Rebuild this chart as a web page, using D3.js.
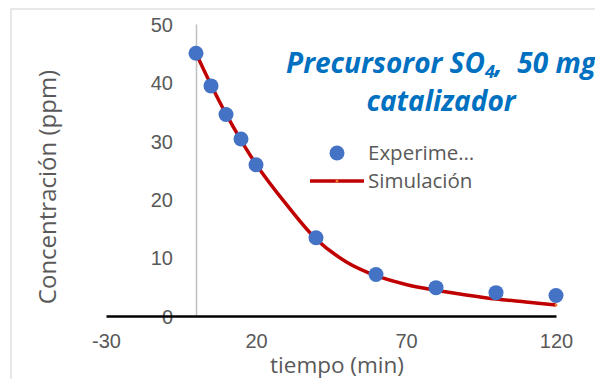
<!DOCTYPE html>
<html lang="es">
<head>
    <meta charset="UTF-8">
    <title>Precursoror SO4</title>
    <script src="https://d3js.org/d3.v7.min.js"></script>
    <style>
        body { margin: 0; background: #fff; }
        svg { display: block; font-family: "Open Sans", "Noto Sans", sans-serif; }
    </style>
</head>
<body>
    <svg width="595" height="379"></svg>
    <script>

// Experimental points
const expTime = [0, 5, 10, 15, 20, 40, 60, 80, 100, 120];
const expConc = [45, 39.4, 34.5, 30.3, 25.9, 13.4, 7.1, 4.85, 4.0, 3.5];

// Simulated curve
const simTime = [0, 5, 10, 15, 20, 30, 40, 50, 60, 70, 80, 90, 100, 110, 120];
const simConc = [45, 39.6, 34.6, 30.1, 26, 19.2, 13.2, 9.3, 6.9, 5.4, 4.4, 3.6, 2.9, 2.4, 1.9];

const xTicks = [-30, 20, 70, 120];
const yTicks = [0, 10, 20, 30, 40, 50];

const svg = d3.select("svg");
const grey = "#595959";

// chart border
svg.append("rect")
    .attr("x", 11).attr("y", 9)
    .attr("width", 700).attr("height", 500)
    .attr("fill", "none")
    .attr("stroke", "#d9d9d9")
    .attr("stroke-width", 1.2);

const x = d3.scaleLinear().domain([-30, 120]).range([106, 556]);
const y = d3.scaleLinear().domain([0, 50]).range([316, 24]);

// y axis (vertical line at x = 0)
const yAxis = svg.append("g")
    .attr("transform", `translate(${x(0)},0)`)
    .call(d3.axisLeft(y).tickValues(yTicks).tickFormat(d => String(d)).tickSize(0).tickPadding(23));
yAxis.select(".domain").attr("stroke", "#bfbfbf").attr("stroke-width", 1.5);
yAxis.selectAll("text").attr("fill", grey).style("font-size", "20px").attr("dy", "0.36em");

// x axis (at y = 0)
const xAxis = svg.append("g")
    .attr("transform", `translate(0,${y(0)})`)
    .call(d3.axisBottom(x).tickValues(xTicks).tickFormat(d => String(d)).tickSize(0).tickPadding(25));
xAxis.select(".domain").attr("stroke", "#000").attr("stroke-width", 2.5);
xAxis.selectAll("text").attr("fill", grey).style("font-size", "20px").attr("dy", "0.36em");

// Axis titles
svg.append("text")
    .attr("x", 337).attr("y", 373)
    .attr("text-anchor", "middle")
    .attr("fill", grey)
    .style("font-size", "22.5px")
    .text("tiempo (min)");

svg.append("text")
    .attr("transform", "translate(56,187) rotate(-90)")
    .attr("text-anchor", "middle")
    .attr("fill", grey)
    .style("font-size", "24px")
    .text("Concentración (ppm)");

// Simulation line
const simData = simTime.map((t, i) => ({ t, c: simConc[i] }));
const line = d3.line().x(d => x(d.t)).y(d => y(d.c)).curve(d3.curveCatmullRom);
svg.append("path")
    .datum(simData)
    .attr("d", line)
    .attr("fill", "none")
    .attr("stroke", "#c00000")
    .attr("stroke-width", 3.5);

const last = simData[simData.length - 1];
svg.append("circle")
    .attr("cx", x(last.t)).attr("cy", y(last.c))
    .attr("r", 1.5).attr("fill", "#ed7d31");

// Experimental points
const expData = expTime.map((t, i) => ({ t, c: expConc[i] }));
svg.selectAll(".pt")
    .data(expData)
    .enter().append("circle")
    .attr("class", "pt")
    .attr("cx", d => x(d.t))
    .attr("cy", d => y(d.c))
    .attr("r", 7.5)
    .attr("fill", "#4472c4");

// Title
const title = svg.append("text")
    .attr("text-anchor", "middle")
    .attr("fill", "#0070c0")
    .style("font-size", "28px")
    .style("font-weight", "bold")
    .style("font-style", "italic");
const l1 = title.append("tspan").attr("x", 441).attr("y", 73);
l1.append("tspan").text("Precursoror SO");
l1.append("tspan").text("4").style("font-size", "18px").attr("dy", 5);
l1.append("tspan").text(",  50 mg").attr("dy", -5).style("white-space", "pre");
title.append("tspan").attr("x", 441).attr("y", 111).text("catalizador");

// Legend
const legend = svg.append("g");
legend.append("circle").attr("cx", 337).attr("cy", 153).attr("r", 7.5).attr("fill", "#4472c4");
legend.append("text").attr("x", 368).attr("y", 160)
    .attr("fill", grey).style("font-size", "20.5px").text("Experime…");
legend.append("line")
    .attr("x1", 310).attr("x2", 364).attr("y1", 181).attr("y2", 181)
    .attr("stroke", "#c00000").attr("stroke-width", 3.5);
legend.append("circle").attr("cx", 337).attr("cy", 181).attr("r", 1.5).attr("fill", "#ed7d31");
legend.append("text").attr("x", 368).attr("y", 188)
    .attr("fill", grey).style("font-size", "20.5px").text("Simulación");

    </script>
</body>
</html>
